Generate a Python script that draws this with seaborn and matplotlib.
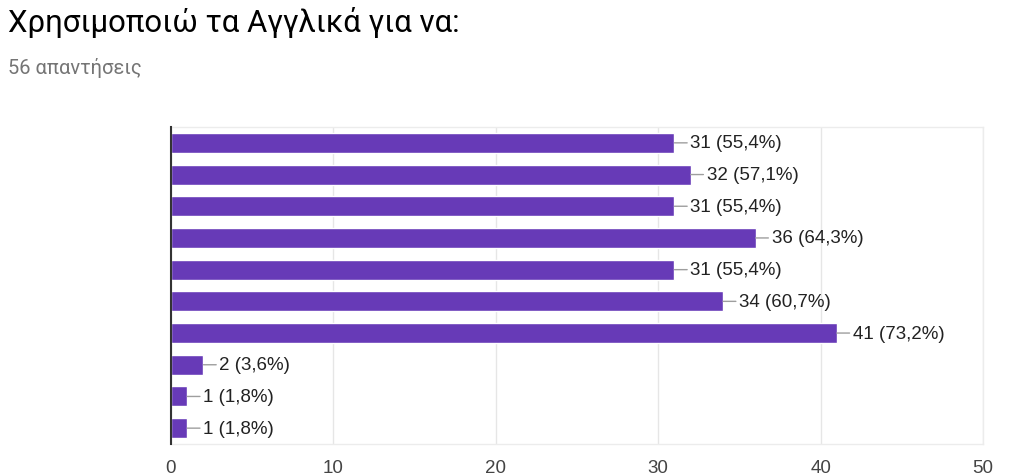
import matplotlib
matplotlib.use("Agg")
import matplotlib.pyplot as plt
import seaborn as sns
import pandas as pd

title = "Χρησιμοποιώ τα Αγγλικά για να:"
subtitle = "56 απαντήσεις"
categories = [f"c{i}" for i in range(1, 11)]
counts = [31, 32, 31, 36, 31, 34, 41, 2, 1, 1]
percents = ["55,4%", "57,1%", "55,4%", "64,3%", "55,4%", "60,7%", "73,2%", "3,6%", "1,8%", "1,8%"]
x_ticks = [0, 10, 20, 30, 40, 50]

sns.set_theme(style="white")
plt.rcParams['font.family'] = ['Liberation Sans', 'DejaVu Sans']

df = pd.DataFrame({"cat": categories, "count": counts})

fig = plt.figure(figsize=(10.23, 4.77), dpi=100)
ax = fig.add_axes([171/1023, 1-445/477, (983-171)/1023, (445-128)/477])

sns.barplot(data=df, x="count", y="cat", orient="h", color="#673ab7",
            saturation=1, width=0.63, ax=ax, zorder=3)

ax.set_xlim(0, 50)
ax.set_ylim(9.5, -0.5)
ax.set_xticks(x_ticks)
ax.set_xticklabels([str(t) for t in x_ticks], fontsize=13.5, color="#444444")
ax.tick_params(axis="x", length=0, pad=10.5)
ax.set_yticks(range(len(categories)))
ax.set_yticklabels([])
ax.tick_params(axis="y", length=0)
ax.set_xlabel("")
ax.set_ylabel("")
ax.grid(axis="x", color="#e6e6e6", linewidth=1, zorder=0)
ax.set_axisbelow(True)
for s in ["top", "right", "bottom"]:
    ax.spines[s].set_color("#ececec")
    ax.spines[s].set_linewidth(1)
ax.spines["left"].set_color("#333333")
ax.spines["left"].set_linewidth(1.5)
ax.spines["left"].set_zorder(5)

for i, (c, p) in enumerate(zip(counts, percents)):
    ax.annotate(f"{c} ({p})", xy=(c, i), xytext=(16, 0), textcoords="offset pixels",
                va="center", ha="left", fontsize=13.5, color="#222222",
                arrowprops=dict(arrowstyle="-", color="#9e9e9e", lw=1,
                                shrinkA=0, shrinkB=0))

fig.text(8/1023, 1-22/477, title, fontsize=22.4, color="#000000", va="center", ha="left",
         family=["Roboto", "DejaVu Sans"])
fig.text(8/1023, 1-68/477, subtitle, fontsize=14.5, color="#757575", va="center", ha="left",
         family=["Roboto", "DejaVu Sans"])

fig.savefig("out.png", dpi=100)
